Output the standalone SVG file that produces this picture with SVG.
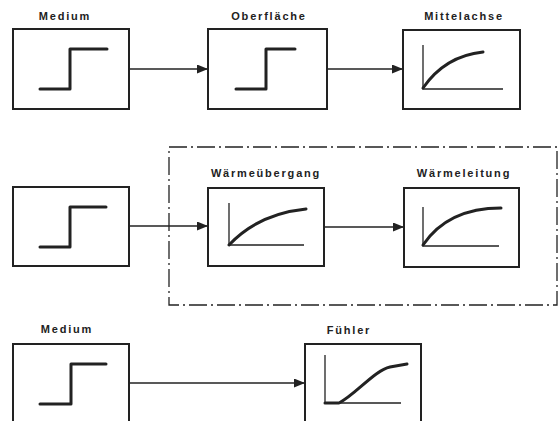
<svg xmlns="http://www.w3.org/2000/svg" width="559" height="421" viewBox="0 0 559 421">
<style>
.box{fill:none;stroke:#222;stroke-width:2}
.sig{fill:none;stroke:#222;stroke-width:3;stroke-linecap:round;stroke-linejoin:round}
.ax{fill:none;stroke:#222;stroke-width:1.3}
.con{fill:none;stroke:#222;stroke-width:1.3}
.lbl{font-family:"Liberation Sans",Arial,sans-serif;font-weight:bold;font-size:11px;letter-spacing:1.8px;fill:#222;text-anchor:middle}
.frame{fill:none;stroke:#222;stroke-width:1.3;stroke-dasharray:18 4 2 4}
</style>
<defs>
<marker id="ah" markerWidth="11" markerHeight="9" refX="11" refY="4.5" orient="auto" markerUnits="userSpaceOnUse">
<path d="M0,0 L11,4.5 L0,9 z" fill="#222"/>
</marker>
</defs>
<rect width="559" height="421" fill="#fff"/>
<rect class="frame" x="169" y="147" width="388" height="158"/>
<g id="connectors">
<line class="con" x1="129" y1="69" x2="208" y2="69" marker-end="url(#ah)"/>
<line class="con" x1="327" y1="69" x2="403" y2="69" marker-end="url(#ah)"/>
<line class="con" x1="129" y1="226" x2="208" y2="226" marker-end="url(#ah)"/>
<line class="con" x1="324" y1="227" x2="404" y2="227" marker-end="url(#ah)"/>
<line class="con" x1="129" y1="383" x2="305" y2="383" marker-end="url(#ah)"/>
</g>
<g id="n1">
<text class="lbl" x="65" y="20">Medium</text>
<rect class="box" x="13" y="29" width="116" height="80"/>
<path class="sig" d="M40,89 H70 V49 H107"/>
</g>
<g id="n2">
<text class="lbl" x="269" y="20">Oberfläche</text>
<rect class="box" x="208" y="29" width="119" height="80"/>
<path class="sig" d="M236,89 H266 V49 H295"/>
</g>
<g id="n3">
<text class="lbl" x="464" y="20">Mittelachse</text>
<rect class="box" x="403" y="30" width="117" height="79"/>
<path class="ax" d="M423,45 V89 H503"/>
<path class="sig" d="M423,88 Q445,56 483,52"/>
</g>
<g id="n4">
<rect class="box" x="13" y="187" width="116" height="79"/>
<path class="sig" d="M40,247 H70 V207 H106"/>
</g>
<g id="n5">
<text class="lbl" x="266" y="177">Wärmeübergang</text>
<rect class="box" x="208" y="188" width="116" height="78"/>
<path class="ax" d="M229,203 V245 H304"/>
<path class="sig" d="M229,245 Q258,214 306,209"/>
</g>
<g id="n6">
<text class="lbl" x="464" y="177">Wärmeleitung</text>
<rect class="box" x="404" y="188" width="115" height="79"/>
<path class="ax" d="M423,207 V246 H499"/>
<path class="sig" d="M423,245 Q448,208 501,208"/>
</g>
<g id="n7">
<text class="lbl" x="67" y="333">Medium</text>
<rect class="box" x="13" y="344" width="116" height="90"/>
<path class="sig" d="M40,404 H71 V364 H106"/>
</g>
<g id="n8">
<text class="lbl" x="349" y="334">Fühler</text>
<rect class="box" x="305" y="344" width="116" height="90"/>
<path class="ax" d="M325,355 V403 H401"/>
<path class="sig" d="M325,403 H339 C355,395 375,370 390,367 L407,364"/>
</g>
</svg>
